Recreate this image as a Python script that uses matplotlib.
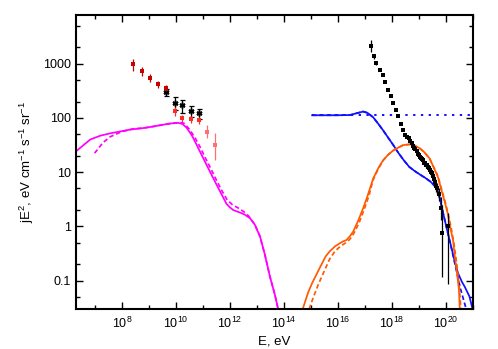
import numpy as np
import matplotlib
matplotlib.use("Agg")
import matplotlib.pyplot as plt
from matplotlib.ticker import FixedLocator, FixedFormatter, NullFormatter

plt.rcParams['font.family'] = ['Liberation Sans', 'DejaVu Sans']
plt.rcParams['mathtext.fontset'] = 'custom'
plt.rcParams['mathtext.rm'] = 'Liberation Sans'

# ---- data (log10 E in eV, E^2 J in eV cm^-1 s^-1 sr^-1) ----
# galactic model (magenta)
mag_solid_lgE = [6.31, 6.83, 7.2, 7.57, 8.0, 8.31, 8.7, 9.05, 9.4, 9.79, 10.1, 10.25,
                 10.4, 10.6, 10.77, 10.95, 11.14, 11.33, 11.5, 11.64, 11.88, 12.0,
                 12.13, 12.38, 12.55, 12.75, 12.93, 13.12, 13.3, 13.49, 13.67, 13.79]
mag_solid_val = [24.4, 40, 47, 52, 57, 61, 64, 68, 73, 79, 81, 77,
                 66, 47, 32, 21, 13.6, 8.8, 6.0, 4.4, 2.6, 2.25,
                 2.0, 1.8, 1.65, 1.41, 1.07, 0.65, 0.3, 0.117, 0.055, 0.03]
mag_dash_lgE = [6.99, 7.3, 7.57, 8.0, 8.43, 8.8, 9.2, 9.6, 10.0, 10.15, 10.3, 10.5,
                10.7, 10.9, 11.1, 11.3, 11.5, 11.7, 11.9, 12.1, 12.3, 12.5, 12.7,
                12.93, 13.12, 13.3, 13.49, 13.67, 13.79]
mag_dash_val = [22.4, 35, 45, 56, 63, 65, 70, 76, 81, 82, 80, 62,
                44, 29, 18, 11.5, 7.2, 4.6, 3.1, 2.5, 2.2, 1.9, 1.55,
                1.07, 0.65, 0.3, 0.117, 0.055, 0.03]

# extragalactic protons (blue)
blue_solid_lgE = [15.05, 15.5, 16.0, 16.45, 16.7, 16.94, 17.1, 17.31, 17.5, 17.68,
                  17.87, 18.05, 18.25, 18.45, 18.65, 18.85, 19.05, 19.25, 19.45,
                  19.6, 19.7, 19.78, 19.86, 20.02, 20.2, 20.35, 20.45, 20.6, 20.7,
                  20.88, 20.98]
blue_solid_val = [112, 112, 112, 113, 122, 131, 124, 103, 78, 59,
                  43, 32, 22.5, 16.5, 12.5, 10.5, 9.0, 7.8, 6.6,
                  5.5, 4.5, 3.3, 2.2, 1.0, 0.43, 0.21, 0.14, 0.095, 0.078,
                  0.051, 0.032]
blue_dash_lgE = [15.05, 15.5, 16.0, 16.45, 16.7, 16.94, 17.1, 17.31, 17.5, 17.68,
                 17.87, 18.05, 18.25, 18.45, 18.65, 18.85, 19.05, 19.25, 19.45,
                 19.6, 19.7, 19.78, 19.86, 20.02, 20.2, 20.4, 20.55, 20.7, 20.76]
blue_dash_val = [112, 112, 112, 113, 122, 131, 124, 103, 78, 59,
                 43, 32, 22.5, 16.5, 12.5, 10.5, 9.0, 7.8, 6.6,
                 5.5, 4.5, 3.3, 2.2, 1.0, 0.42, 0.15, 0.07, 0.038, 0.03]
blue_dot_lgE = [15.05, 21.0]
blue_dot_val = [112, 112]

# secondary / heavy component (orange)
orange_solid_lgE = [14.72, 14.9, 15.05, 15.21, 15.4, 15.55, 15.71, 15.9, 16.08, 16.2,
                    16.32, 16.45, 16.57, 16.75, 16.94, 17.1, 17.31, 17.5, 17.68,
                    17.87, 18.05, 18.25, 18.42, 18.67, 18.85, 19.04, 19.2, 19.4,
                    19.53, 19.71, 19.84, 19.95, 20.08, 20.17, 20.27, 20.33, 20.39,
                    20.49, 20.52]
orange_solid_val = [0.032, 0.06, 0.09, 0.13, 0.2, 0.28, 0.35, 0.43, 0.49, 0.53,
                    0.56, 0.66, 0.8, 1.25, 2.16, 3.6, 7.6, 11.8, 16.6,
                    21, 25, 28.5, 31.5, 32.6, 31, 27.5, 23.5, 18,
                    13, 8.2, 4.7, 3.0, 1.7, 0.95, 0.56, 0.3, 0.18,
                    0.068, 0.03]
orange_dash_lgE = [14.94, 15.1, 15.3, 15.5, 15.7, 15.9, 16.1, 16.3, 16.45, 16.6,
                   16.8, 17.0, 17.15, 17.31, 17.5, 17.68, 17.87, 18.05, 18.25,
                   18.42, 18.67, 18.85, 19.04, 19.2, 19.4, 19.53, 19.71, 19.84,
                   20.0, 20.1, 20.2, 20.3, 20.4, 20.5, 20.56]
orange_dash_val = [0.03, 0.05, 0.09, 0.15, 0.25, 0.35, 0.43, 0.5, 0.58, 0.75,
                   1.2, 2.2, 3.6, 7.2, 11.5, 16.4, 21, 25, 28.5,
                   31.5, 32.6, 31, 27.5, 23.5, 18, 13.2, 8.5, 5.0,
                   2.6, 1.6, 0.95, 0.5, 0.22, 0.08, 0.03]

# gamma-ray points (dark red / red / light red) and black asterisks
fermi_dark_lgE = [8.43, 8.74, 9.05, 9.35, 9.65]
fermi_dark_val = [980, 731, 553, 422, 355]
fermi_dark_err = [250, 130, 90, 65, 45]
fermi_red_lgE = [9.97, 10.24, 10.55, 10.85]
fermi_red_val = [135, 100, 95, 91]
fermi_red_err = [25, 15, 15, 15]
fermi_light_lgE = [11.14, 11.45]
fermi_light_lo = [42, 16.6]
fermi_light_val = [55, 32]
fermi_light_hi = [73, 52]
gam_black_lgE = [9.65, 9.96, 10.24, 10.55, 10.85]
gam_black_val = [300, 190, 170, 135, 122]
gam_black_err = [45, 50, 45, 30, 25]

# cosmic ray data (black squares)
cr_lgE = [17.25, 17.35, 17.43, 17.56, 17.66, 17.75, 17.86, 17.96, 18.06, 18.15,
          18.25, 18.33, 18.42, 18.51, 18.57, 18.63, 18.67, 18.74, 18.78, 18.82,
          18.87, 18.93, 18.97, 19.0, 19.05, 19.07, 19.12, 19.15, 19.2, 19.22,
          19.27, 19.3, 19.33, 19.37, 19.41, 19.44, 19.48, 19.52, 19.55, 19.59,
          19.63, 19.66, 19.75, 19.84, 19.85, 20.1]
cr_val = [2150, 1360, 1025, 776, 609, 457, 331, 250, 188, 138,
          107, 78, 59, 48, 45, 42, 37, 34, 31, 28,
          27, 25, 22, 20.4, 19, 18, 17.5, 16.7, 15, 14.7,
          13.5, 13.5, 12.5, 11.9, 11, 10, 9.5, 8.5, 7.5, 6.6,
          5.5, 5.1, 4.0, 2.2, 0.75, 1.0]
cr_lo = [1620, 1200, 960, 740, 585, 440, 320, 243, 183, 134,
         104, 76, 57, 46, 43, 40, 35.5, 32.5, 29.5, 26.5,
         25.5, 23.5, 20.5, 19, 17.5, 16.5, 16, 15, 13.5, 13,
         12, 12, 11, 10.5, 9.5, 8.5, 8, 7, 6.2, 5.3,
         4.3, 3.9, 2.9, 1.3, 0.115, 0.085]
cr_hi = [2680, 1540, 1090, 812, 633, 474, 342, 257, 193, 142,
         110, 80, 61, 50, 47, 44, 38.5, 35.5, 32.5, 29.5,
         28.5, 26.5, 23.5, 21.8, 20.5, 19.5, 19, 18.4, 16.5, 16.4,
         15, 15, 14, 13.3, 12.5, 11.5, 11, 10, 8.8, 7.9,
         6.7, 6.3, 5.1, 3.5, 2.5, 1.8]

x_major = [1e8, 1e10, 1e12, 1e14, 1e16, 1e18, 1e20]
x_labels = [r'$\mathregular{10^{%d}}$' % int(np.log10(v)) for v in x_major]
y_major = [0.1, 1, 10, 100, 1000]
y_labels = ['0.1', '1', '10', '100', '1000']


def E(lg):
    return 10.0 ** np.asarray(lg)


fig = plt.figure(figsize=(4.98, 3.49), dpi=100)
ax = fig.add_axes([0.1526, 0.1146, 0.7966, 0.8433])
ax.set_xscale('log')
ax.set_yscale('log')

MAG, BLUE, ORANGE = '#ff00ff', '#1010ff', '#ff5a00'
lw = 1.25
dash = (0, (2.6, 1.6))

ax.plot(E(mag_solid_lgE), mag_solid_val, color=MAG, lw=lw)
ax.plot(E(mag_dash_lgE), mag_dash_val, color=MAG, lw=lw, ls=dash)
ax.plot(E(blue_dot_lgE), blue_dot_val, color=BLUE, lw=1.4, ls=(0, (1.2, 2.8)))
ax.plot(E(blue_solid_lgE), blue_solid_val, color=BLUE, lw=lw)
ax.plot(E(blue_dash_lgE), blue_dash_val, color=BLUE, lw=lw, ls=dash)
ax.plot(E(orange_solid_lgE), orange_solid_val, color=ORANGE, lw=lw)
ax.plot(E(orange_dash_lgE), orange_dash_val, color=ORANGE, lw=lw, ls=dash)

eb = dict(fmt='s', ms=3.2, capsize=1.8, elinewidth=0.9, capthick=0.9, mew=0)
ax.errorbar(E(gam_black_lgE), gam_black_val, yerr=gam_black_err, color='black',
            fmt='none', capsize=1.8, elinewidth=0.9, capthick=0.9)
ax.plot(E(gam_black_lgE), gam_black_val, ls='none', marker=(6, 2, 0), ms=4.2,
        mew=1.1, color='black')
ax.errorbar(E(fermi_dark_lgE), fermi_dark_val, yerr=fermi_dark_err, color='#c80000', **eb)
ax.errorbar(E(fermi_red_lgE), fermi_red_val, yerr=fermi_red_err, color='#ff2a2a', **eb)
lt_err = [np.subtract(fermi_light_val, fermi_light_lo),
          np.subtract(fermi_light_hi, fermi_light_val)]
ax.errorbar(E(fermi_light_lgE), fermi_light_val, yerr=lt_err, color='#ff7070', **eb)

cr_err = [np.subtract(cr_val, cr_lo), np.subtract(cr_hi, cr_val)]
ax.errorbar(E(cr_lgE), cr_val, yerr=cr_err, color='black', fmt='s', ms=3.4,
            capsize=1.8, elinewidth=0.9, capthick=0.9, mew=0)

ax.set_xlim(2e6, 1e21)
ax.set_ylim(0.03, 8000)

ax.xaxis.set_major_locator(FixedLocator(x_major))
ax.xaxis.set_major_formatter(FixedFormatter(x_labels))
ax.xaxis.set_minor_locator(FixedLocator([10.0 ** k for k in range(7, 22, 2)]))
ax.xaxis.set_minor_formatter(NullFormatter())
ax.yaxis.set_major_locator(FixedLocator(y_major))
ax.yaxis.set_major_formatter(FixedFormatter(y_labels))
ax.yaxis.set_minor_locator(FixedLocator([m * 10.0 ** k for k in range(-2, 4) for m in (2, 5)]))
ax.yaxis.set_minor_formatter(NullFormatter())

ax.tick_params(which='both', direction='in', top=True, right=True, labelsize=9,
               width=1.0, color='black')
ax.tick_params(which='major', length=5)
ax.tick_params(which='minor', length=3)
ax.tick_params(axis='x', pad=5)
for s in ax.spines.values():
    s.set_linewidth(1.5)

ax.set_xlabel('E, eV', fontsize=9.5, labelpad=3)
ax.set_ylabel(r'jE$^{2}$, eV cm$^{-1}$ s$^{-1}$ sr$^{-1}$', fontsize=9.5, labelpad=5)

fig.savefig('out.png', dpi=100)
